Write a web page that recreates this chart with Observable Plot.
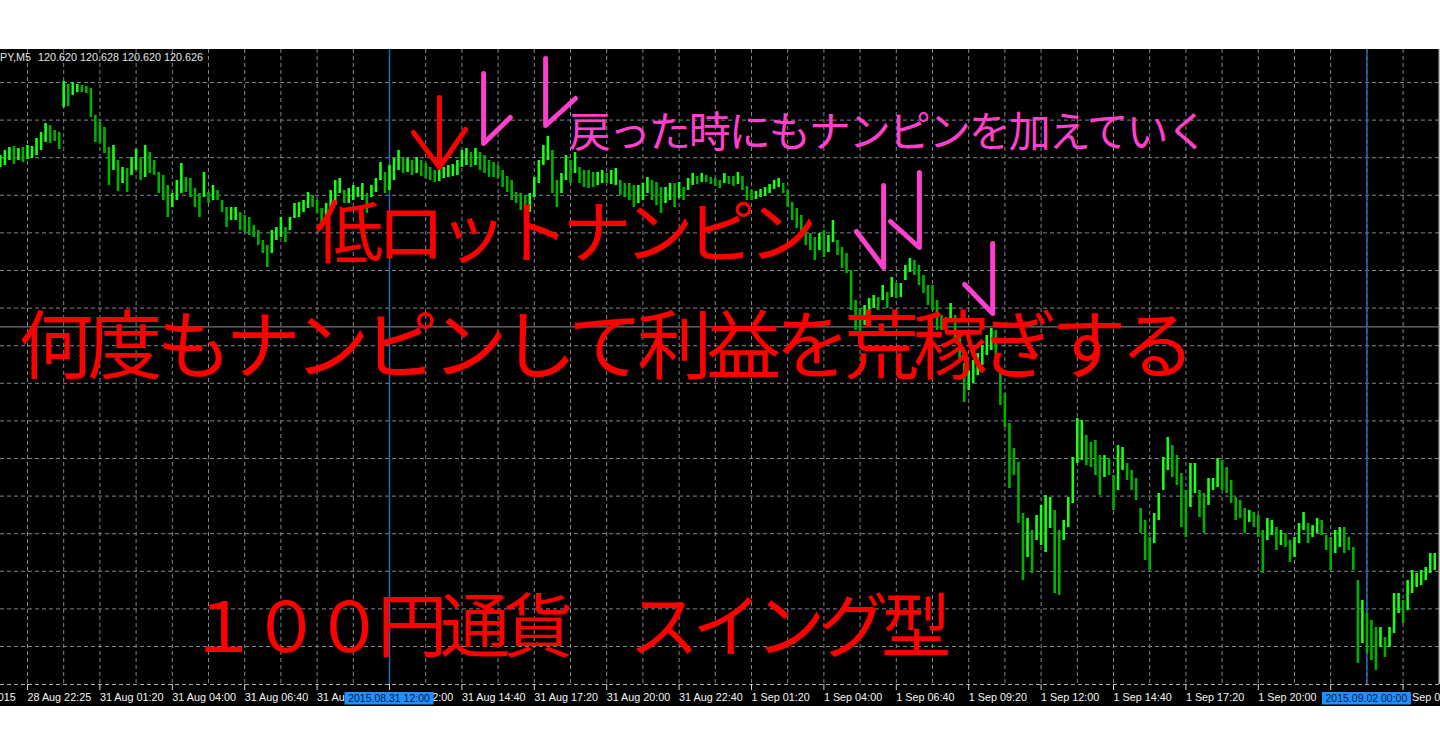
<!DOCTYPE html>
<html><head><meta charset="utf-8">
<script src="https://cdn.jsdelivr.net/npm/d3@7"></script>
<script src="https://cdn.jsdelivr.net/npm/@observablehq/plot@0.6"></script>
<style>
html,body{margin:0;padding:0;background:#fff;width:1440px;height:756px;overflow:hidden}
#chart svg{display:block}
</style></head><body><div id="chart"></div>
<script>
// USDJPY M5 bars, grouped in 10-minute slots: high / low prices
const highs = [
121.535,121.560,121.575,121.580,121.570,121.575,121.585,121.580,121.620,121.650,
121.695,121.685,121.660,121.650,121.905,121.890,121.900,121.890,121.885,121.880,
121.870,121.735,121.700,121.675,121.575,121.585,121.510,121.475,121.470,121.525,
121.565,121.520,121.585,121.550,121.510,121.450,121.435,121.385,121.345,121.410,
121.495,121.425,121.420,121.370,121.345,121.450,121.350,121.385,121.360,121.310,
121.275,121.275,121.275,121.250,121.235,121.225,121.185,121.160,121.110,121.085,
121.160,121.175,121.225,121.175,121.225,121.295,121.300,121.310,121.350,121.335,
121.310,121.270,121.295,121.360,121.410,121.420,121.360,121.370,121.385,121.375,
121.395,121.345,121.385,121.420,121.500,121.450,121.485,121.520,121.560,121.525,
121.520,121.510,121.525,121.510,121.495,121.475,121.460,121.470,121.475,121.485,
121.490,121.510,121.560,121.570,121.550,121.570,121.550,121.535,121.510,121.500,
121.485,121.460,121.430,121.410,121.350,121.345,121.335,121.345,121.425,121.510,
121.585,121.630,121.560,121.410,121.445,121.535,121.510,121.550,121.475,121.460,
121.460,121.450,121.450,121.460,121.445,121.460,121.470,121.410,121.395,121.395,
121.385,121.385,121.395,121.425,121.410,121.400,121.375,121.375,121.395,121.395,
121.400,121.375,121.420,121.445,121.430,121.445,121.435,121.425,121.420,121.410,
121.445,121.430,121.430,121.450,121.430,121.380,121.360,121.355,121.365,121.375,
121.390,121.410,121.420,121.395,121.360,121.300,121.270,121.235,121.185,121.145,
121.125,121.145,121.160,121.135,121.210,121.110,121.075,121.045,120.960,120.810,
120.770,120.785,120.820,120.835,120.825,120.885,120.850,120.925,120.895,120.895,
120.985,121.020,121.010,120.985,120.935,120.885,120.885,120.810,120.735,120.725,
120.795,120.735,120.660,120.495,120.460,120.510,120.545,120.585,120.635,120.670,
120.660,120.460,120.345,120.195,120.070,120.000,119.745,119.720,119.660,119.735,
119.785,119.835,119.825,119.760,119.660,119.710,119.825,120.025,120.220,120.210,
120.135,120.100,120.110,120.035,120.035,120.020,119.935,120.085,120.075,119.995,
119.960,119.920,119.770,119.710,119.625,119.745,119.845,120.025,120.125,120.085,
120.035,119.945,119.860,119.995,119.995,119.860,119.845,119.920,119.920,120.020,
120.010,119.975,119.910,119.825,119.810,119.770,119.760,119.750,119.735,119.660,
119.720,119.710,119.675,119.660,119.645,119.610,119.625,119.695,119.750,119.695,
119.685,119.720,119.710,119.635,119.625,119.660,119.675,119.675,119.625,119.575,
119.410,119.310,119.245,119.210,119.175,119.175,119.125,119.175,119.345,119.345,
119.310,119.410,119.460,119.445,119.460,119.475,119.545,119.545];
const lows = [
121.475,121.485,121.510,121.490,121.510,121.500,121.515,121.520,121.535,121.560,
121.600,121.595,121.605,121.565,121.775,121.780,121.835,121.850,121.850,121.845,
121.725,121.600,121.595,121.545,121.385,121.460,121.355,121.395,121.350,121.435,
121.460,121.410,121.425,121.445,121.435,121.345,121.310,121.225,121.275,121.310,
121.345,121.350,121.325,121.275,121.225,121.325,121.295,121.310,121.310,121.250,
121.175,121.210,121.210,121.160,121.150,121.135,121.125,121.085,121.045,120.975,
121.045,121.110,121.125,121.100,121.160,121.220,121.225,121.250,121.270,121.275,
121.245,121.175,121.225,121.260,121.285,121.345,121.295,121.295,121.310,121.325,
121.310,121.245,121.325,121.350,121.410,121.345,121.360,121.410,121.460,121.445,
121.450,121.435,121.445,121.430,121.420,121.410,121.400,121.405,121.420,121.425,
121.430,121.435,121.475,121.485,121.475,121.485,121.460,121.445,121.425,121.425,
121.420,121.375,121.350,121.310,121.295,121.260,121.225,121.250,121.325,121.395,
121.485,121.510,121.345,121.275,121.345,121.410,121.395,121.445,121.395,121.375,
121.370,121.375,121.385,121.395,121.395,121.390,121.385,121.335,121.325,121.310,
121.275,121.295,121.310,121.345,121.310,121.285,121.245,121.295,121.310,121.275,
121.320,121.310,121.360,121.385,121.390,121.400,121.400,121.390,121.380,121.370,
121.395,121.390,121.380,121.390,121.360,121.310,121.310,121.315,121.325,121.330,
121.345,121.365,121.375,121.345,121.275,121.210,121.170,121.130,121.085,121.060,
121.010,121.060,121.025,121.050,121.100,121.035,120.970,120.945,120.760,120.660,
120.645,120.685,120.750,120.770,120.760,120.810,120.770,120.825,120.820,120.825,
120.910,120.950,120.935,120.885,120.845,120.785,120.760,120.660,120.660,120.645,
120.700,120.610,120.510,120.300,120.360,120.395,120.435,120.485,120.535,120.560,
120.475,120.285,120.175,119.870,119.935,119.695,119.410,119.525,119.445,119.610,
119.585,119.550,119.670,119.345,119.335,119.610,119.675,119.795,119.995,120.010,
119.985,119.975,119.935,119.835,119.925,119.935,119.760,119.860,119.960,119.910,
119.860,119.810,119.645,119.510,119.460,119.595,119.710,119.860,119.960,119.925,
119.885,119.675,119.625,119.775,119.845,119.725,119.645,119.785,119.860,119.875,
119.860,119.845,119.795,119.710,119.720,119.645,119.700,119.675,119.625,119.445,
119.610,119.635,119.560,119.585,119.575,119.500,119.525,119.595,119.660,119.595,
119.625,119.645,119.635,119.560,119.460,119.545,119.575,119.545,119.560,119.460,
118.995,119.095,119.045,119.010,118.960,119.075,119.025,119.075,119.145,119.245,
119.195,119.260,119.345,119.375,119.385,119.410,119.445,119.460];

// time axis labels (one every 16 slots, first one partly off-screen)
const tickLabels = ["28 Aug 2015","28 Aug 22:25","31 Aug 01:20","31 Aug 04:00","31 Aug 06:40",
  "31 Aug 09:20","31 Aug 12:00","31 Aug 14:40","31 Aug 17:20","31 Aug 20:00","31 Aug 22:40",
  "1 Sep 01:20","1 Sep 04:00","1 Sep 06:40","1 Sep 09:20","1 Sep 12:00","1 Sep 14:40",
  "1 Sep 17:20","1 Sep 20:00","1 Sep 22:40","2 Sep 01:20"];
const firstTickSlot = -10;
const tickStep = 16;

// vertical line objects and their date tags
const vlineSlots = [86, 302];
const vlineTags = ["2015.08.31 12:00", "2015.09.02 00:00"];
// horizontal line object
const hlinePrice = [120.678];

// header
const headerSymbol = "USDJPY,M5";
const headerQuote = "120.620 120.628 120.620 120.626";

// annotations
const annTexts = ["戻った時にもナンピンを加えていく", "低ロットナンピン", "何度もナンピンして利益を荒稼ぎする", "１００円通貨　スイング型"];
const annSlots = [125.6, 69.4, 4.0, 41.5];
const annPrices = [121.645, 121.135, 120.57, 119.165];
const annColors = ["#ff40cc", "#ff0000", "#ff0000", "#ff0000"];
const annSizes = [42, 69, 75, 70];
const annSpacing = [-2, -7, -6, -7];

// hand drawn arrows: [id, color, slot, price]
const arrowPts = [
  ["a1","#ff0000",97.05,121.825],["a1","#ff0000",97.05,121.475],
  ["a2","#ff0000",91.3,121.65],["a2","#ff0000",97.05,121.475],["a2","#ff0000",102.8,121.665],
  ["c1","#ff40cc",106.8,121.945],["c1","#ff40cc",106.8,121.595],["c1","#ff40cc",112.7,121.725],
  ["c2","#ff40cc",120.5,122.02],["c2","#ff40cc",120.5,121.685],["c2","#ff40cc",127.1,121.82],
  ["h1","#ff40cc",195.2,121.385],["h1","#ff40cc",195.2,120.975],["h1","#ff40cc",189.2,121.155],
  ["h2","#ff40cc",203.1,121.45],["h2","#ff40cc",203.1,121.075],["h2","#ff40cc",196.7,121.205],
  ["h3","#ff40cc",219.3,121.095],["h3","#ff40cc",219.3,120.745],["h3","#ff40cc",213.1,120.89]
].map(([id, color, slot, price]) => ({id, color, slot, price}));

const bars = highs.map((h, i) => ({
  slot: i, high: h, low: lows[i],
  up: i === 0 || (h + lows[i]) >= (highs[i - 1] + lows[i - 1])
}));
const tickSlots = tickLabels.map((_, i) => firstTickSlot + tickStep * i);
const labelOf = new Map(tickSlots.map((s, i) => [s, tickLabels[i]]));
const vGrid = d3.range(6, 311, 8);
const hGrid = d3.range(16).map(k => 121.90 - 0.188 * k);
const frameSlot = 318;
const yBottom = 118.89;

const anns = annTexts.map((t, i) => ({text: t, slot: annSlots[i], price: annPrices[i], color: annColors[i], size: annSizes[i], ls: annSpacing[i]}));
const sans = "Liberation Sans, Arial, sans-serif";

const chart = Plot.plot({
  width: 1440, height: 756,
  marginTop: 49, marginBottom: 72, marginLeft: 0, marginRight: 0,
  style: {background: "#ffffff", overflow: "hidden"},
  x: {domain: [0.033, 318.265]},
  y: {domain: [yBottom, 122.065], axis: null},
  marks: [
    Plot.ruleY(hGrid, {stroke: "#7d8794", strokeDasharray: "4,3"}),
    Plot.ruleX(vGrid, {stroke: "#7d8794", strokeDasharray: "4,3"}),
    Plot.ruleY([yBottom], {stroke: "#a4acb6", strokeDasharray: "4,3"}),
    Plot.ruleX([frameSlot], {stroke: "#bdbdbd", strokeWidth: 1.5}),
    Plot.ruleY(hlinePrice, {stroke: "#8e8e8e"}),
    Plot.ruleX(vlineSlots, {stroke: "#2468b4", strokeWidth: 1.5}),
    Plot.ruleX(bars, {x: "slot", y1: "low", y2: "high", stroke: d => d.up ? "#16ff16" : "#00b000", strokeWidth: 2.6}),
    Plot.axisX(tickSlots, {tickFormat: d => labelOf.get(d), textAnchor: "start", tickSize: 6, tickPadding: 3,
      stroke: "#d8d8d8", fill: "#f4f4f4", fontSize: 10.8, fontFamily: sans, label: null}),
    ...anns.map(a => Plot.text([a], {x: "slot", y: "price", text: "text", fill: a.color, fontSize: a.size,
      fontFamily: "Noto Sans CJK JP", textAnchor: "start", lineAnchor: "middle"})),
    Plot.line(arrowPts, {x: "slot", y: "price", z: "id", stroke: "color", strokeWidth: 5,
      strokeLinecap: "round", strokeLinejoin: "round"})
  ]
});

const svg = d3.select(chart);
// black chart window
svg.insert("rect", ":first-child").attr("x", 0).attr("y", 49).attr("width", 1440).attr("height", 657).attr("fill", "#000");
// letter spacing for the annotation texts
svg.selectAll("text").each(function () {
  const a = anns.find(d => d.text === this.textContent);
  if (a) d3.select(this).attr("letter-spacing", a.ls);
});
const xs = chart.scale("x");
// date tags of the vertical lines
vlineSlots.forEach((s, i) => {
  const cx = xs.apply(s);
  svg.append("rect").attr("x", cx - 44.5).attr("y", 692).attr("width", 89).attr("height", 12.5).attr("fill", "#1e90ff");
  svg.append("text").attr("x", cx).attr("y", 702).attr("text-anchor", "middle")
    .attr("font-family", sans).attr("font-size", 10.5).attr("fill", "#0a1a44").text(vlineTags[i]);
});
// header
svg.append("text").attr("x", 31).attr("y", 60.5).attr("text-anchor", "end")
  .attr("font-family", sans).attr("font-size", 10.8).attr("fill", "#e4e4e4").text(headerSymbol);
svg.append("text").attr("x", 38).attr("y", 60.5).attr("text-anchor", "start")
  .attr("font-family", sans).attr("font-size", 10.8).attr("fill", "#e4e4e4").text(headerQuote);

document.getElementById("chart").appendChild(chart);
</script></body></html>
